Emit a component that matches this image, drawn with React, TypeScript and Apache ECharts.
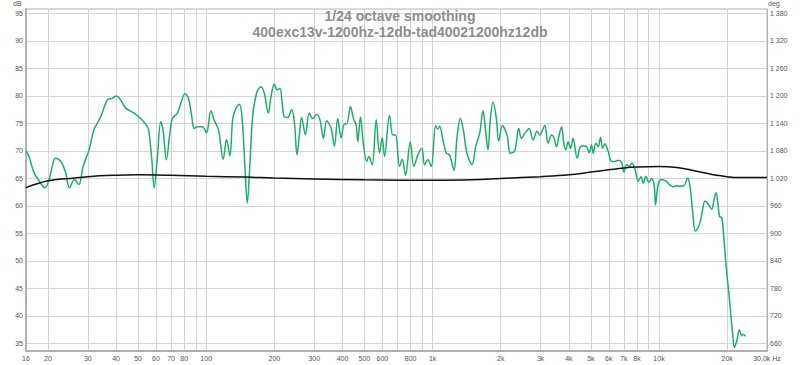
import React, { useEffect, useRef } from "react";
import * as echarts from "echarts";

// Frequency response (1/24 octave smoothing), Hz and dB
const freqHz = [
  16, 16.5, 17.3, 18.2, 19.4, 20.2, 20.9, 21.6, 22.8, 23.9, 24.9, 26.2, 27.4, 28.6,
  30.4, 31.9, 34.2, 36.6, 38.5, 40.1, 41.9, 44.1, 48.0, 51.4, 53.7, 55.5, 57.5, 58.9,
  60.9, 63.0, 64.5, 66.7, 69.1, 70.9, 74.6, 77.3, 80.7, 83.5, 86.4, 88.5, 91.5, 96.3,
  100.3, 104.9, 108.5, 113.4, 118.9, 123.0, 127.3, 130.8, 134.4, 140.0, 143.9, 148.8,
  151.8, 156.1, 160.3, 167.0, 174.6, 180.6, 188.1, 193.4, 200.0, 205.6, 211.9, 216.3,
  221.4, 228.9, 238.5, 245.2, 251.9, 257.9, 264.0, 274.2, 285.6, 295.4, 307.7, 318.5,
  329.4, 340.7, 356.3, 368.5, 381.1, 394.5, 408.0, 417.7, 433.7, 447.1, 459.6, 467.2,
  480.2, 495.1, 512.1, 522.6, 541.1, 563.6, 582.9, 599.1, 613.3, 645.2, 667.3, 686.0,
  714.5, 734.4, 759.6, 796.9, 826.8, 860.9, 896.8, 921.8, 953.2, 986.8, 1031, 1052,
  1074, 1111, 1150, 1189, 1243, 1281, 1326, 1371, 1418, 1493, 1550, 1614, 1670, 1716,
  1757, 1800, 1849, 1913, 1959, 2034, 2132, 2207, 2306, 2402, 2469, 2553, 2668, 2779,
  2894, 2975, 3058, 3131, 3238, 3352, 3431, 3527, 3622, 3712, 3799, 3877, 3969, 4068,
  4177, 4350, 4503, 4657, 4787, 4915, 5037, 5120, 5262, 5387, 5521, 5636, 5769, 5967,
  6177, 6388, 6607, 6839, 7000, 7195, 7389, 7572, 7831, 8098, 8325, 8520, 8750, 9020,
  9290, 9540, 9650, 9929, 10278, 10740, 11186, 11570, 11975, 12385, 12900, 13397,
  13715, 14099, 14476, 15077, 15450, 15978, 16524, 17108, 17514, 17873, 18298, 18523,
  18942, 19254, 19793, 20470, 21190, 21540, 22072, 22664, 23224, 23605, 24095,
];
const splDb = [
  70.0, 69.0, 66.2, 64.7, 63.3, 64.7, 67.2, 68.7, 68.1, 66.2, 63.3, 64.8, 63.9, 67.2,
  70.2, 73.8, 76.2, 79.3, 79.6, 80.0, 79.3, 77.8, 76.9, 75.9, 75.0, 74.1, 68.5, 63.3,
  69.0, 75.3, 73.8, 68.4, 73.2, 75.9, 76.9, 78.7, 80.4, 79.6, 76.2, 74.1, 74.4, 74.4,
  73.3, 77.3, 75.6, 73.8, 68.5, 72.1, 69.1, 75.6, 77.5, 78.5, 76.2, 66.0,
  60.5, 67.8, 76.2, 80.5, 81.7, 80.5, 76.9, 79.9, 82.2, 81.1, 81.4, 79.0,
  76.2, 76.1, 77.5, 75.3, 69.3, 72.9, 76.1, 73.0, 76.9, 75.9, 76.7, 75.6,
  72.3, 75.5, 74.1, 70.9, 75.9, 72.4, 74.9, 74.9, 78.1, 75.9, 74.7, 71.7,
  76.2, 71.1, 68.1, 69.0, 67.5, 75.7, 69.6, 72.4, 69.0, 76.5, 72.9, 72.9,
  67.2, 68.5, 65.6, 71.7, 67.2, 69.3, 70.5, 67.5, 68.4, 67.2, 74.6, 74.0,
  74.5, 72.0, 69.6, 69.3, 66.5, 72.3, 75.9, 73.5, 69.6, 67.5, 70.8, 73.2, 77.3, 73.5,
  70.2, 75.9, 78.9, 75.9, 71.8, 74.6, 72.9, 69.6, 70.0, 74.1, 72.3, 73.2, 74.1, 72.0,
  73.6, 72.9, 73.8, 74.7, 71.4, 72.9, 72.5, 70.8, 72.9, 74.4, 71.4, 70.2, 71.7, 70.5,
  72.3, 68.7, 70.8, 70.9, 70.8, 69.7, 71.1, 69.6, 71.4, 70.8, 72.5, 70.5, 71.3, 69.9,
  68.1, 68.1, 68.3, 67.9, 66.2, 67.5, 67.2, 67.8, 66.7, 64.5, 65.3, 64.2, 65.4, 64.3,
  65.0, 63.5, 60.2, 64.0, 64.8, 64.5, 63.8, 63.5, 63.7, 63.6, 63.7, 65.1,
  63.5, 58.8, 55.4, 56.6, 58.5, 60.9, 60.3, 59.4, 61.2, 62.4, 59.7, 58.1,
  57.9, 55.2, 49.1, 43.1, 36.4, 34.3, 35.5, 37.5, 36.4, 36.7, 36.3,
];

// Black curve (right axis, degrees)
const phaseFreqHz = [
  16, 20, 25, 30, 40, 50, 70, 100, 150, 200, 300, 500, 1000, 1500, 2000, 3000, 4000,
  5000, 6000, 7000, 8000, 10000, 12000, 14000, 16000, 18000, 20000, 22000, 30000,
];
const phaseDeg = [
  1000, 1015, 1020, 1024, 1027, 1028, 1027, 1025, 1023, 1021, 1019, 1017, 1016, 1017,
  1020, 1024, 1028, 1034, 1039, 1043, 1045, 1046, 1044, 1038, 1032, 1027, 1024, 1022, 1022,
];

const xGridHz = [
  20, 30, 40, 50, 60, 70, 80, 90, 100, 200, 300, 400, 500, 600, 700, 800, 900, 1000,
  2000, 3000, 4000, 5000, 6000, 7000, 8000, 9000, 10000, 20000,
];
const xLabelHz = [
  16, 20, 30, 40, 50, 60, 70, 80, 100, 200, 300, 400, 500, 600, 800, 1000, 2000, 3000,
  4000, 5000, 6000, 7000, 8000, 10000, 20000, 30000,
];
const xLabelText = [
  "16", "20", "30", "40", "50", "60", "70", "80", "100", "200", "300", "400", "500",
  "600", "800", "1k", "2k", "3k", "4k", "5k", "6k", "7k", "8k", "10k", "20k", "30,0k Hz",
];
const dbTicks = [35, 40, 45, 50, 55, 60, 65, 70, 75, 80, 85, 90, 95];
const degTicks = [660, 720, 780, 840, 900, 960, 1020, 1080, 1140, 1200, 1260, 1320, 1380];
const titleLine1 = "1/24 octave smoothing";
const titleLine2 = "400exc13v-1200hz-12db-tad40021200hz12db";

export default function App() {
  const ref = useRef<HTMLDivElement>(null);

  useEffect(() => {
    if (!ref.current) return;
    const chart = echarts.init(ref.current, undefined, { renderer: "svg" });
    const lg = (f: number) => Math.log10(f);
    const labelFont = { fontFamily: "Liberation Sans, Arial, sans-serif", fontSize: 7, color: "#555" };
    const gridColor = "#d5d5d5";
    const yMin = 33.636;
    const yMax = 95.818;
    const toDeg = (db: number) => 660 + (db - 35) * 12;
    const titleStyle = {
      fontFamily: "Liberation Sans, Arial, sans-serif",
      fontSize: 14,
      fontWeight: "bold",
      color: "#8e8e8e",
    };

    chart.setOption({
      animation: false,
      backgroundColor: "#ffffff",
      title: [
        { text: titleLine1, left: "center", top: 9, padding: 0, textStyle: titleStyle },
        { text: titleLine2, left: "center", top: 24.5, padding: 0, textStyle: titleStyle },
      ],
      graphic: [
        {
          type: "text",
          left: 13,
          top: 0,
          style: { text: "dB", fontFamily: labelFont.fontFamily, fill: "#555", fontSize: 7 },
        },
        {
          type: "text",
          left: 768,
          top: 0,
          style: { text: "deg", fontFamily: labelFont.fontFamily, fill: "#555", fontSize: 7 },
        },
      ],
      grid: {
        left: 26,
        right: 33,
        top: 9,
        bottom: 14,
        show: true,
        borderColor: "#b4b4b4",
        borderWidth: 1,
      },
      xAxis: {
        type: "value",
        min: lg(16),
        max: lg(30000),
        axisLine: { show: true, onZero: false, lineStyle: { color: "#b0b0b0", width: 2 } },
        axisTick: { show: false, customValues: xGridHz.map(lg) },
        splitLine: { show: true, lineStyle: { color: gridColor, width: 1 } },
        axisLabel: {
          ...labelFont,
          margin: 4,
          customValues: xLabelHz.map(lg),
          formatter: (v: number) => {
            const i = xLabelHz.findIndex((f) => Math.abs(lg(f) - v) < 1e-6);
            return i >= 0 ? xLabelText[i] : "";
          },
        },
      },
      yAxis: [
        {
          type: "value",
          min: yMin,
          max: yMax,
          axisLine: { show: true, lineStyle: { color: "#b0b0b0", width: 2 } },
          axisTick: { show: false, customValues: dbTicks },
          splitLine: { show: true, lineStyle: { color: gridColor, width: 1 } },
          axisLabel: { ...labelFont, margin: 3, customValues: dbTicks },
        },
        {
          type: "value",
          position: "right",
          min: toDeg(yMin),
          max: toDeg(yMax),
          axisLine: { show: true, lineStyle: { color: "#b4b4b4", width: 1 } },
          axisTick: { show: false, customValues: degTicks },
          splitLine: { show: false },
          axisLabel: {
            ...labelFont,
            margin: 3,
            customValues: degTicks,
            formatter: (v: number) => {
              const s = String(Math.round(v));
              return s.length > 3 ? s.slice(0, s.length - 3) + " " + s.slice(-3) : s;
            },
          },
        },
      ],
      series: [
        {
          type: "line",
          name: "SPL",
          data: freqHz.map((f, i) => [lg(f), splDb[i]]),
          showSymbol: false,
          smooth: 0.35,
          lineStyle: { color: "#1fae68", width: 1.5 },
          z: 2,
        },
        {
          type: "line",
          name: "Phase",
          yAxisIndex: 1,
          data: phaseFreqHz.map((f, i) => [lg(f), phaseDeg[i]]),
          showSymbol: false,
          smooth: 0.4,
          lineStyle: { color: "#111111", width: 1.5 },
          z: 3,
        },
      ],
    });

    return () => chart.dispose();
  }, []);

  return <div ref={ref} style={{ width: 800, height: 365, position: "absolute", left: 0, top: 0 }} />;
}
